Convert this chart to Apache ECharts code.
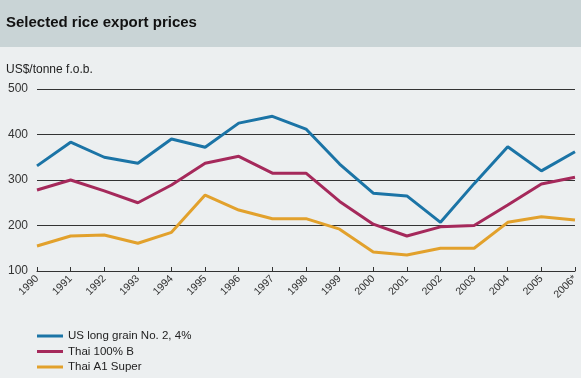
<!DOCTYPE html>
<html><head><meta charset="utf-8">
<script src="https://cdn.jsdelivr.net/npm/echarts@6/dist/echarts.min.js"></script>
<style>html,body{margin:0;padding:0;background:#eceff0;}#c{width:581px;height:378px;}</style>
</head><body><div id="c"></div>
<script>
var years = ['1990','1991','1992','1993','1994','1995','1996','1997','1998','1999','2000','2001','2002','2003','2004','2005','2006*'];
var usLongGrain = [331,383,350,337,390,372,425,440,412,335,271,265,207,292,373,320,362];
var thai100B = [278,300,276,250,289,337,352,315,315,253,203,177,197,200,245,291,306];
var thaiA1Super = [155,177,179,161,185,267,234,215,215,192,142,135,150,150,207,219,212];
var seriesNames = ['US long grain No. 2, 4%','Thai 100% B','Thai A1 Super'];
var colors = ['#1b74a6','#a5295b','#e2a12c'];

var chart = echarts.init(document.getElementById('c'), null, {renderer:'canvas'});
var font = 'Liberation Sans, Arial, Helvetica, sans-serif';
var dataSets = [usLongGrain, thai100B, thaiA1Super];
var legendTops = [330, 345.5, 361];
chart.setOption({
  backgroundColor: '#eceff0',
  animation: false,
  graphic: [
    {type:'rect', left:0, top:0, shape:{width:581, height:47}, style:{fill:'#c9d4d6'}, z:-1},
    {type:'text', left:6, top:15, style:{text:'Selected rice export prices', font:'bold 15px '+font, fill:'#111'}},
    {type:'text', left:6, top:64, style:{text:'US$/tonne f.o.b.', font:'12px '+font, fill:'#222'}}
  ],
  grid: {left:37, right:6, top:89, bottom:107, containLabel:false},
  xAxis: {
    type:'category', data: years, boundaryGap:false,
    axisLine:{show:true, lineStyle:{color:'#333', width:1}},
    axisTick:{show:true, inside:true, length:4, alignWithLabel:true, lineStyle:{color:'#333'}},
    axisLabel:{rotate:45, fontSize:10.5, color:'#333', fontFamily:font, margin:6, interval:0},
    splitLine:{show:false}
  },
  yAxis: {
    type:'value', min:100, max:500, interval:100,
    axisLine:{show:false}, axisTick:{show:false},
    axisLabel:{fontSize:12, color:'#333', fontFamily:font, margin:9},
    splitLine:{show:true, lineStyle:{color:'#333', width:1}}
  },
  legend: seriesNames.map(function(n,i){
    return {orient:'vertical', left:37, top:legendTops[i], padding:0, itemWidth:26, itemHeight:3,
      icon:'rect', textStyle:{fontSize:11.5, color:'#222', fontFamily:font, padding:[0,0,0,0]},
      data:[n]};
  }),
  series: seriesNames.map(function(n,i){
    return {name:n, type:'line', data:dataSets[i], symbol:'none', lineStyle:{color:colors[i], width:3}, itemStyle:{color:colors[i]}};
  })
});
</script></body></html>
